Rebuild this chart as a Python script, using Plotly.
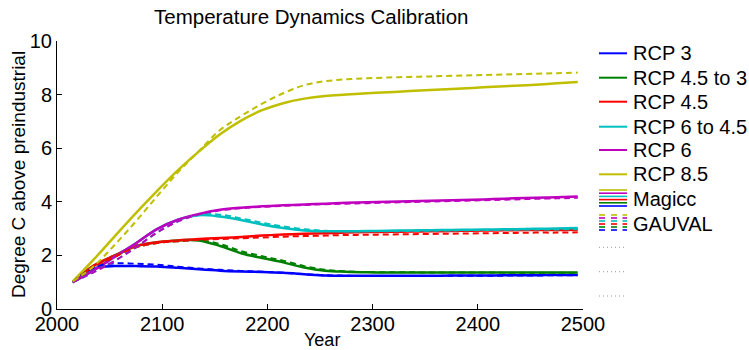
import plotly.graph_objects as go

# ---------------- data ----------------
years = [2015, 2035, 2055, 2075, 2095, 2115, 2135, 2155, 2175, 2195, 2215, 2235, 2255,
         2275, 2295, 2315, 2335, 2355, 2375, 2395, 2415, 2435, 2455, 2475, 2495]

scenario_names = ["RCP 3", "RCP 4.5 to 3", "RCP 4.5", "RCP 6 to 4.5", "RCP 6", "RCP 8.5"]
scenario_colors = ["#0000FF", "#008000", "#FF0000", "#00BFBF", "#BF00BF", "#BFBF00"]

# Magicc (solid lines)
magicc_rcp3 = [1.0, 1.5, 1.6, 1.6, 1.59, 1.54, 1.48, 1.43, 1.4, 1.38, 1.35, 1.3, 1.25,
               1.24, 1.24, 1.24, 1.24, 1.24, 1.25, 1.25, 1.25, 1.26, 1.26, 1.27, 1.27]
magicc_rcp45to3 = [1.0, 1.62, 2.0, 2.35, 2.49, 2.56, 2.56, 2.35, 2.08, 1.9, 1.74, 1.55, 1.43,
                   1.39, 1.37, 1.36, 1.36, 1.36, 1.36, 1.36, 1.36, 1.36, 1.36, 1.36, 1.36]
magicc_rcp45 = [1.0, 1.62, 2.0, 2.35, 2.49, 2.56, 2.61, 2.65, 2.69, 2.74, 2.78, 2.81, 2.83,
                2.85, 2.87, 2.88, 2.89, 2.9, 2.91, 2.92, 2.93, 2.94, 2.95, 2.95, 2.96]
magicc_rcp6to45 = [1.0, 1.45, 1.95, 2.45, 2.98, 3.33, 3.5, 3.45, 3.32, 3.15, 3.02, 2.93, 2.9,
                   2.9, 2.91, 2.92, 2.93, 2.94, 2.95, 2.96, 2.97, 2.98, 2.99, 3.0, 3.02]
magicc_rcp6 = [1.0, 1.45, 1.95, 2.45, 2.98, 3.33, 3.55, 3.7, 3.78, 3.83, 3.87, 3.9, 3.93,
               3.96, 3.98, 4.0, 4.02, 4.04, 4.06, 4.08, 4.1, 4.13, 4.15, 4.17, 4.2]
magicc_rcp85 = [1.03, 1.85, 2.72, 3.58, 4.4, 5.18, 5.88, 6.52, 7.03, 7.42, 7.68, 7.85, 7.95,
                8.0, 8.05, 8.09, 8.13, 8.17, 8.21, 8.25, 8.29, 8.33, 8.37, 8.42, 8.47]

# GAUVAL (dashed lines)
gauval_rcp3 = [1.0, 1.55, 1.7, 1.69, 1.65, 1.58, 1.51, 1.46, 1.42, 1.39, 1.35, 1.3, 1.26,
               1.24, 1.23, 1.23, 1.23, 1.23, 1.24, 1.24, 1.24, 1.25, 1.25, 1.26, 1.26]
gauval_rcp45to3 = [1.0, 1.58, 1.95, 2.3, 2.46, 2.53, 2.57, 2.42, 2.16, 1.97, 1.8, 1.6, 1.46,
                   1.4, 1.38, 1.37, 1.37, 1.36, 1.36, 1.36, 1.36, 1.35, 1.35, 1.35, 1.35]
gauval_rcp45 = [1.0, 1.58, 1.95, 2.3, 2.46, 2.53, 2.58, 2.61, 2.64, 2.67, 2.7, 2.72, 2.74,
                2.76, 2.77, 2.78, 2.79, 2.8, 2.81, 2.82, 2.83, 2.84, 2.85, 2.85, 2.86]
gauval_rcp6to45 = [1.0, 1.38, 1.8, 2.3, 2.85, 3.27, 3.52, 3.52, 3.38, 3.22, 3.08, 2.98, 2.92,
                   2.9, 2.9, 2.9, 2.91, 2.92, 2.93, 2.94, 2.95, 2.96, 2.97, 2.97, 2.98]
gauval_rcp6 = [1.0, 1.38, 1.8, 2.3, 2.85, 3.27, 3.53, 3.68, 3.76, 3.81, 3.85, 3.88, 3.91,
               3.93, 3.95, 3.97, 3.99, 4.01, 4.03, 4.05, 4.07, 4.09, 4.11, 4.13, 4.15]
gauval_rcp85 = [1.03, 1.6, 2.4, 3.27, 4.2, 5.1, 5.9, 6.68, 7.2, 7.66, 8.05, 8.35, 8.5,
                8.57, 8.61, 8.64, 8.66, 8.68, 8.7, 8.72, 8.74, 8.76, 8.78, 8.8, 8.82]

magicc = [magicc_rcp3, magicc_rcp45to3, magicc_rcp45, magicc_rcp6to45, magicc_rcp6, magicc_rcp85]
gauval = [gauval_rcp3, gauval_rcp45to3, gauval_rcp45, gauval_rcp6to45, gauval_rcp6, gauval_rcp85]

x_ticks = [2000, 2100, 2200, 2300, 2400, 2500]
y_ticks = [0, 2, 4, 6, 8, 10]

title_text = "Temperature Dynamics Calibration"
x_title = "Year"
y_title = "Degree C above preindustrial"
legend_extra = ["Magicc", "GAUVAL"]

# ---------------- layout geometry ----------------
W, H = 749, 350
ML, MR, MT, MB = 57, 166, 41, 41
PW, PH = W - ML - MR, H - MT - MB
FONT = "Liberation Sans, Arial, Helvetica, sans-serif"


def px(xp):
    return (xp - ML) / PW


def py(yp):
    return (H - MB - yp) / PH


fig = go.Figure()

for name, col, ys in zip(scenario_names, scenario_colors, magicc):
    fig.add_trace(go.Scatter(x=years, y=ys, mode="lines", name=name,
                             line=dict(color=col, width=2.5, shape="spline", smoothing=1.0),
                             showlegend=False))
for name, col, ys in zip(scenario_names, scenario_colors, gauval):
    fig.add_trace(go.Scatter(x=years, y=ys, mode="lines", name=name + " GAUVAL",
                             line=dict(color=col, width=2, dash="6px,4px", shape="spline", smoothing=1.0),
                             showlegend=False))

shapes = []
annotations = []

# legend: scenario entries
leg_x0, leg_x1, leg_tx = 599, 627, 631
leg_rows = [53.3, 77.7, 101.7, 126.7, 150, 174.3]
for name, col, yy in zip(scenario_names, scenario_colors, leg_rows):
    shapes.append(dict(type="line", xref="paper", yref="paper",
                       x0=px(leg_x0), x1=px(leg_x1), y0=py(yy), y1=py(yy),
                       line=dict(color=col, width=2)))
    annotations.append(dict(text=name, xref="paper", yref="paper", x=px(leg_tx), y=py(yy),
                            xanchor="left", yanchor="middle", showarrow=False,
                            font=dict(family=FONT, size=20, color="black")))

# Magicc icon: stacked solid lines
stack_cols = list(reversed(scenario_colors))
for i, col in enumerate(stack_cols):
    yy = 190 + i * 3.2
    shapes.append(dict(type="line", xref="paper", yref="paper",
                       x0=px(leg_x0), x1=px(leg_x1), y0=py(yy), y1=py(yy),
                       line=dict(color=col, width=1.6)))
annotations.append(dict(text=legend_extra[0], xref="paper", yref="paper", x=px(leg_tx), y=py(199),
                        xanchor="left", yanchor="middle", showarrow=False,
                        font=dict(family=FONT, size=20, color="black")))

# GAUVAL icon: stacked dashed lines
dash_cols = [(599, 605), (611, 617), (622.5, 627)]
for i, col in enumerate(stack_cols):
    yy = 215 + i * 3.0
    for a, b in dash_cols:
        shapes.append(dict(type="line", xref="paper", yref="paper",
                           x0=px(a), x1=px(b), y0=py(yy), y1=py(yy),
                           line=dict(color=col, width=1.6)))
annotations.append(dict(text=legend_extra[1], xref="paper", yref="paper", x=px(leg_tx), y=py(223.5),
                        xanchor="left", yanchor="middle", showarrow=False,
                        font=dict(family=FONT, size=20, color="black")))

# empty dotted legend entries
for yy in [247.3, 271.7, 296]:
    shapes.append(dict(type="line", xref="paper", yref="paper",
                       x0=px(599), x1=px(626), y0=py(yy), y1=py(yy),
                       line=dict(color="#999999", width=1, dash="1px,3px")))

# title and axis titles
annotations.append(dict(text=title_text, xref="paper", yref="paper", x=px(311), y=py(17),
                        xanchor="center", yanchor="middle", showarrow=False,
                        font=dict(family=FONT, size=20.5, color="black")))
annotations.append(dict(text=x_title, xref="paper", yref="paper", x=px(322), y=py(340),
                        xanchor="center", yanchor="middle", showarrow=False,
                        font=dict(family=FONT, size=18, color="black")))
annotations.append(dict(text=y_title, xref="paper", yref="paper", x=px(18), y=py(175),
                        xanchor="center", yanchor="middle", showarrow=False, textangle=-90,
                        font=dict(family=FONT, size=19, color="black")))

fig.update_layout(
    width=W, height=H,
    margin=dict(l=ML, r=MR, t=MT, b=MB, pad=0),
    paper_bgcolor="white", plot_bgcolor="white",
    showlegend=False,
    shapes=shapes, annotations=annotations,
    font=dict(family=FONT, size=20, color="black"),
)
fig.update_xaxes(range=[2000, 2500], tickvals=x_ticks, ticktext=[str(v) for v in x_ticks],
                 ticks="inside", ticklen=5, tickcolor="black", tickwidth=1,
                 showline=True, linecolor="black", linewidth=1, mirror=False,
                 showgrid=False, zeroline=False, ticklabelstandoff=-3,
                 tickfont=dict(family=FONT, size=20, color="black"))
fig.update_yaxes(range=[0, 10], tickvals=y_ticks, ticktext=[str(v) for v in y_ticks],
                 ticks="inside", ticklen=5, tickcolor="black", tickwidth=1,
                 showline=True, linecolor="black", linewidth=1, mirror=False,
                 showgrid=False, zeroline=False,
                 tickfont=dict(family=FONT, size=20, color="black"))

fig.write_html("out.html")
